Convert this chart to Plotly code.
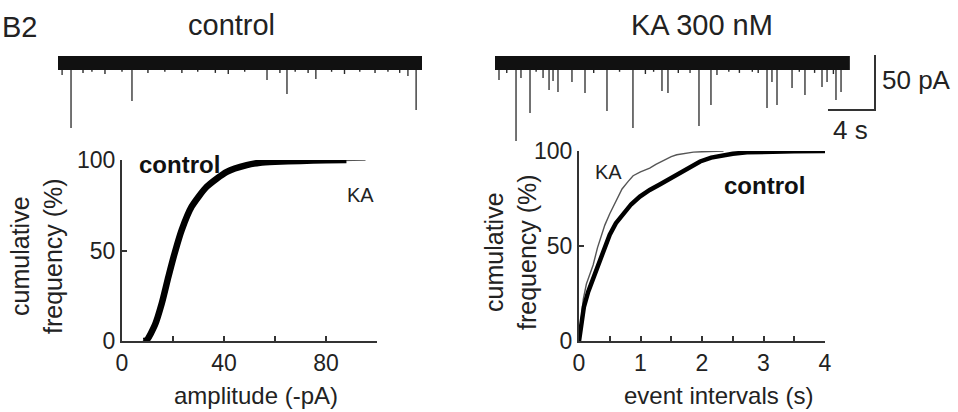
import plotly.graph_objects as go

W, H = 958, 412

# ---------------- data ----------------
# raw current traces: event times (s) and amplitudes (pA, downward)
ctrl_trace_duration = 31.0
ctrl_event_t = [0.35, 1.11, 6.30, 17.8, 19.5, 21.96, 29.8, 30.5]
ctrl_event_amp = [11.0, 59.0, 34.5, 15.5, 28.2, 14.5, 11.8, 42.7]
# small noise deflections visible below the baseline band
ctrl_noise_t = [2.13, 2.89, 4.0, 5.45, 7.66, 9.1, 10.55, 11.9, 13.4, 14.5, 15.9,
                18.9, 20.2, 21.3, 23.3, 24.4, 25.7, 27.0, 28.1, 29.1]
ctrl_noise_amp = [9, 8, 10, 8, 9, 8, 9, 8, 9, 10, 8, 9, 8, 9, 8, 10, 8, 9, 8, 9]

ka_trace_duration = 30.2
ka_event_t = [0.34, 1.79, 2.21, 2.98, 4.09, 4.60, 4.94, 5.36, 6.55, 7.66, 9.53,
              11.74, 14.21, 14.72, 16.60, 17.36, 18.38, 18.89, 23.15, 23.57,
              24.0, 25.28, 26.38, 27.83, 28.26, 29.02, 29.45]
ka_event_amp = [15.5, 70.9, 13.6, 45.5, 13.6, 24.5, 16.4, 26.4, 17.3, 27.3, 43.6,
                59.1, 25.5, 27.3, 9.1, 57.3, 38.2, 10.9, 40.9, 17.3,
                38.2, 22.7, 29.1, 21.8, 17.3, 33.6, 26.4]
ka_noise_t = [1.0, 3.5, 8.4, 10.6, 12.8, 13.5, 15.6, 19.9, 20.8, 21.9, 22.4,
              25.9, 27.2, 28.8]
ka_noise_amp = [9, 8, 9, 8, 10, 8, 9, 8, 9, 8, 9, 8, 9, 10]

scale_bar_time = 4      # s
scale_bar_amp = 50      # pA

# cumulative amplitude distributions
amp_control = [8.4, 9.7, 12.9, 15.6, 18.2, 20.8, 23.4, 27.3, 33.2, 41.1, 48.9,
               54.1, 60, 70, 80, 88]
cum_amp_control = [0, 0.5, 8.8, 20.8, 35.5, 49.3, 61.3, 74.2, 85.2, 93.5, 97.2,
                   98.5, 99.0, 99.5, 99.8, 100]
amp_ka = [8.2, 9.6, 12.8, 15.5, 18.1, 20.7, 23.3, 27.2, 33.1, 41.0, 49.0,
          55, 62, 72, 82, 90, 95.5]
cum_amp_ka = [0, 0.5, 8.8, 20.8, 35.5, 49.3, 61.3, 74.2, 85.2, 93.5, 97.2,
              98.5, 99.0, 99.4, 99.6, 99.8, 100]

# cumulative inter-event interval distributions
ivl_control = [0, 0.03, 0.08, 0.15, 0.22, 0.29, 0.4, 0.5, 0.6, 0.72, 0.85, 0.99,
               1.15, 1.32, 1.5, 1.64, 1.8, 1.97, 2.15, 2.3, 2.5, 2.73, 3.0, 3.5, 4.0]
cum_ivl_control = [0, 8, 18, 26, 32, 37, 48, 56, 62, 67, 72, 76,
                   79.5, 82.5, 86, 88.5, 91.5, 94.5, 96.5, 97.6, 98.5, 99.3, 99.6, 99.9, 100]
ivl_ka = [0, 0.03, 0.07, 0.12, 0.18, 0.23, 0.3, 0.36, 0.42, 0.5, 0.56, 0.62,
          0.7, 0.8, 0.88, 1.0, 1.15, 1.25, 1.37, 1.5, 1.59, 1.75, 1.86, 2.0, 2.35]
cum_ivl_ka = [0, 10, 22, 30, 36, 40, 49, 55, 61, 67, 71, 75,
              80, 84, 87, 89, 91, 93, 95, 97, 98, 99, 99.4, 99.6, 100]

amp_ticks = [0, 20, 40, 60, 80, 100]
amp_ticktext = ["0", "", "40", "", "80", ""]
ivl_ticks = [0, 0.5, 1, 1.5, 2, 2.5, 3, 3.5, 4]
ivl_ticktext = ["0", "", "1", "", "2", "", "3", "", "4"]
cum_ticks = [0, 50, 100]

# ---------------- helpers ----------------
FONT = "Liberation Sans, Arial, sans-serif"
AX = "#333333"
TXT = "#222222"


def xp(px):
    return px / W


def yp(py):
    return 1 - py / H


def spikes(ts, amps):
    xs, ys = [], []
    for t, a in zip(ts, amps):
        xs += [t, t, None]
        ys += [0, -a, None]
    return xs, ys


fig = go.Figure()


def add_raw_trace(ev_t, ev_a, nz_t, nz_a, duration, xa, ya):
    sx, sy = spikes(ev_t, ev_a)
    fig.add_trace(go.Scatter(x=sx, y=sy, mode="lines",
                             line=dict(color="#505050", width=1.6),
                             xaxis=xa, yaxis=ya, hoverinfo="skip"))
    nx, ny = spikes(nz_t, nz_a)
    fig.add_trace(go.Scatter(x=nx, y=ny, mode="lines",
                             line=dict(color="#2a2a2a", width=1.4),
                             xaxis=xa, yaxis=ya, hoverinfo="skip"))
    fig.add_trace(go.Scatter(x=[0, duration], y=[0, 0], mode="lines",
                             line=dict(color="#111111", width=14),
                             xaxis=xa, yaxis=ya, hoverinfo="skip"))


add_raw_trace(ctrl_event_t, ctrl_event_amp, ctrl_noise_t, ctrl_noise_amp,
              ctrl_trace_duration, "x3", "y3")
add_raw_trace(ka_event_t, ka_event_amp, ka_noise_t, ka_noise_amp,
              ka_trace_duration, "x4", "y4")

# scale bar
sb_x0 = 28.34
sb_y0 = -42.7
fig.add_trace(go.Scatter(x=[sb_x0, sb_x0 + scale_bar_time, sb_x0 + scale_bar_time],
                         y=[sb_y0, sb_y0, sb_y0 + scale_bar_amp], mode="lines",
                         line=dict(color=AX, width=2), xaxis="x4", yaxis="y4",
                         hoverinfo="skip"))

# left cumulative amplitude
fig.add_trace(go.Scatter(x=amp_ka, y=cum_amp_ka, mode="lines",
                         line=dict(color="#555555", width=1.4), xaxis="x", yaxis="y"))
fig.add_trace(go.Scatter(x=amp_control, y=cum_amp_control, mode="lines",
                         line=dict(color="#000000", width=6.5, shape="spline", smoothing=0.6),
                         xaxis="x", yaxis="y"))
# right cumulative intervals
fig.add_trace(go.Scatter(x=ivl_ka, y=cum_ivl_ka, mode="lines",
                         line=dict(color="#555555", width=1.4), xaxis="x2", yaxis="y2"))
fig.add_trace(go.Scatter(x=ivl_control, y=cum_ivl_control, mode="lines",
                         line=dict(color="#000000", width=4.5), xaxis="x2", yaxis="y2"))

axis_common = dict(showline=True, linecolor=AX, linewidth=2, ticks="inside",
                   tickcolor=AX, tickwidth=2, ticklen=5, showgrid=False, zeroline=False,
                   automargin=False,
                   tickfont=dict(family=FONT, size=23, color=TXT), fixedrange=True)
hidden = dict(visible=False, fixedrange=True, automargin=False, showgrid=False,
              zeroline=False)

trace_y_range = [-(145 - 63) / 1.1, (63 - 50) / 1.1]

fig.update_layout(
    template="none",
    width=W, height=H, autosize=False,
    margin=dict(l=0, r=0, t=0, b=0, pad=0),
    paper_bgcolor="white", plot_bgcolor="white", showlegend=False,
    xaxis=dict(domain=[xp(122), xp(377)], range=[0, 100], tickvals=amp_ticks,
               ticktext=amp_ticktext, anchor="y", **axis_common),
    yaxis=dict(domain=[yp(341), yp(160)], range=[0, 100], tickvals=cum_ticks,
               anchor="x", **axis_common),
    xaxis2=dict(domain=[xp(579), xp(825)], range=[0, 4], tickvals=ivl_ticks,
                ticktext=ivl_ticktext, anchor="y2", **axis_common),
    yaxis2=dict(domain=[yp(341), yp(151)], range=[0, 100], tickvals=cum_ticks,
                anchor="x2", **axis_common),
    xaxis3=dict(domain=[xp(58), xp(422)], range=[0, ctrl_trace_duration],
                anchor="y3", **hidden),
    yaxis3=dict(domain=[yp(145), yp(50)], range=trace_y_range, anchor="x3", **hidden),
    xaxis4=dict(domain=[xp(495), xp(880)], range=[0, 385 / 11.75], anchor="y4", **hidden),
    yaxis4=dict(domain=[yp(145), yp(50)], range=trace_y_range, anchor="x4", **hidden),
)


def ann(text, x, y, size, xanchor="center", bold=False, angle=0, color=TXT):
    fig.add_annotation(text=f"<b>{text}</b>" if bold else text, x=xp(x), y=yp(y),
                       xref="paper", yref="paper", showarrow=False, xanchor=xanchor,
                       yanchor="middle", textangle=angle,
                       font=dict(family=FONT, size=size, color=color))


ann("B2", 0, 27, 29, xanchor="left")
ann("control", 231, 25, 29)
ann("KA 300 nM", 702, 25, 29)
ann("50 pA", 880, 80, 26, xanchor="left")
ann("4 s", 850, 130, 26)

ann("control", 137, 164, 24, xanchor="left", bold=True, color="#111111")
ann("KA", 345, 195, 20, xanchor="left")
ann("KA", 593, 172, 20, xanchor="left")
ann("control", 722, 185, 24, xanchor="left", bold=True, color="#111111")

ann("cumulative<br>frequency (%)", 37, 256, 25, angle=-90)
ann("cumulative<br>frequency (%)", 511, 252, 25, angle=-90)
ann("amplitude (-pA)", 256, 395, 24)
ann("event intervals (s)", 718, 395, 24)

fig.write_html(
    "out.html",
    config={"displayModeBar": False},
    post_script="document.body.style.margin='0';document.body.style.padding='0';"
                "document.body.style.overflow='hidden';",
)
